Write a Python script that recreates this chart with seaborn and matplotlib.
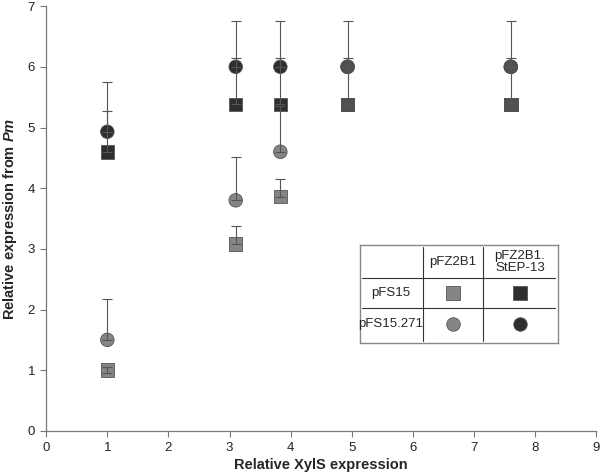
import matplotlib
matplotlib.use("Agg")
import matplotlib.pyplot as plt
import seaborn as sns
import pandas as pd

# values
xyls = [1.0, 3.1, 3.83, 4.93, 7.6]
gray_sq = [1.0, 3.08, 3.86, 5.38, 5.38]
gray_sq_up = [0.05, 0.29, 0.29, 0.0, 0.0]
gray_sq_lo = [0.05, 0.0, 0.0, 0.0, 0.0]
gray_ci = [1.5, 3.8, 4.6, 6.0, 6.0]
gray_ci_up = [0.67, 0.72, 0.75, 0.0, 0.0]
dark_sq = [4.6, 5.38, 5.38, 5.38, 5.38]
dark_sq_up = [0.67, 0.77, 0.77, 0.77, 0.77]
dark_ci = [4.93, 6.0, 6.0, 6.0, 6.0]
dark_ci_up = [0.82, 0.75, 0.75, 0.75, 0.75]

col_labels = ["pFZ2B1", "pFZ2B1.\nStEP-13"]
row_labels = ["pFS15", "pFS15.271"]

GRAY = "#858585"
DARK = "#2e2e2e"

sns.set_style("ticks")
plt.rcParams["font.family"] = ["Liberation Sans", "DejaVu Sans"]
plt.rcParams["mathtext.fontset"] = "custom"
plt.rcParams["mathtext.bfit"] = "Liberation Sans:italic:bold"

rows = []
for plasmid, vals, marker_col in [("pFZ2B1.StEP-13", dark_sq, "pFS15"), ("pFZ2B1.StEP-13", dark_ci, "pFS15.271"),
                                  ("pFZ2B1", gray_sq, "pFS15"), ("pFZ2B1", gray_ci, "pFS15.271")]:
    for x, y in zip(xyls, vals):
        rows.append({"xyls": x, "pm": y, "helper": plasmid, "reporter": marker_col})
df = pd.DataFrame(rows)

fig = plt.figure(figsize=(6, 4.73), dpi=100)
ax = fig.add_axes([0.077, 0.089, 0.917, 0.898])

sns.scatterplot(data=df, x="xyls", y="pm", hue="helper", style="reporter",
                palette={"pFZ2B1": GRAY, "pFZ2B1.StEP-13": DARK},
                markers={"pFS15": "s", "pFS15.271": "o"}, s=95,
                edgecolor="#555555", linewidth=0.6, legend=False, ax=ax, zorder=2)
# dark markers drawn again where both overlap, slightly transparent so the gray shows through
over = df[(df.helper == "pFZ2B1.StEP-13") & (df.xyls > 4.5)]
sns.scatterplot(data=over, x="xyls", y="pm", style="reporter", color=DARK,
                markers={"pFS15": "s", "pFS15.271": "o"}, s=95, alpha=0.6,
                edgecolor="#555555", linewidth=0.6, legend=False, ax=ax, zorder=2)

err_kw = dict(fmt="none", ecolor="#555555", elinewidth=0.8, capsize=3.5, capthick=0.8, zorder=3)
ax.errorbar(xyls, gray_sq, yerr=[gray_sq_lo, gray_sq_up], **err_kw)
ax.errorbar(xyls, gray_ci, yerr=[[0] * 5, gray_ci_up], **err_kw)
ax.errorbar(xyls, dark_sq, yerr=[[0] * 5, dark_sq_up], **err_kw)
ax.errorbar(xyls, dark_ci, yerr=[[0] * 5, dark_ci_up], **err_kw)

ax.set_xlim(0, 9)
ax.set_ylim(0, 7)
ax.set_xticks(range(0, 10))
ax.set_yticks(range(0, 8))
for s in ["top", "right"]:
    ax.spines[s].set_visible(False)
for s in ["left", "bottom"]:
    ax.spines[s].set_color("#777777")
    ax.spines[s].set_linewidth(0.9)
ax.tick_params(colors="#777777", labelcolor="#222222", labelsize=9.5, length=4, width=0.8, pad=4)
ax.set_xlabel("Relative XylS expression", fontsize=10.5, fontweight="bold", labelpad=3)
ax.set_ylabel(r"Relative expression from $\bfit{Pm}$", fontsize=10.5, fontweight="bold", labelpad=6)

# legend drawn as a small table
lg = fig.add_axes([0.6, 0.275, 0.33, 0.207])
lg.set_xlim(360, 558)
lg.set_ylim(343, 245)
lg.set_xticks([])
lg.set_yticks([])
for s in lg.spines.values():
    s.set_color("#888888")
    s.set_linewidth(1.0)
lg.plot([423, 423], [247, 341], color="#333333", lw=0.8)
lg.plot([483, 483], [247, 341], color="#333333", lw=0.8)
lg.plot([362, 555], [278, 278], color="#333333", lw=0.8)
lg.plot([362, 555], [308, 308], color="#333333", lw=0.8)
col_x = [453, 520]
row_y = [293, 324]
for cx, lab in zip(col_x, col_labels):
    lg.text(cx, 262, lab, ha="center", va="center", fontsize=9.5, linespacing=1.1)
for ry, lab in zip(row_y, row_labels):
    lg.text(391, ry, lab, ha="center", va="center", fontsize=9.5)
for cx, c in zip(col_x, [GRAY, DARK]):
    for ry, m in zip(row_y, ["s", "o"]):
        lg.scatter([cx], [ry], marker=m, s=95, color=c, edgecolor="#555555", linewidth=0.6)

fig.savefig("out.png", dpi=100)
